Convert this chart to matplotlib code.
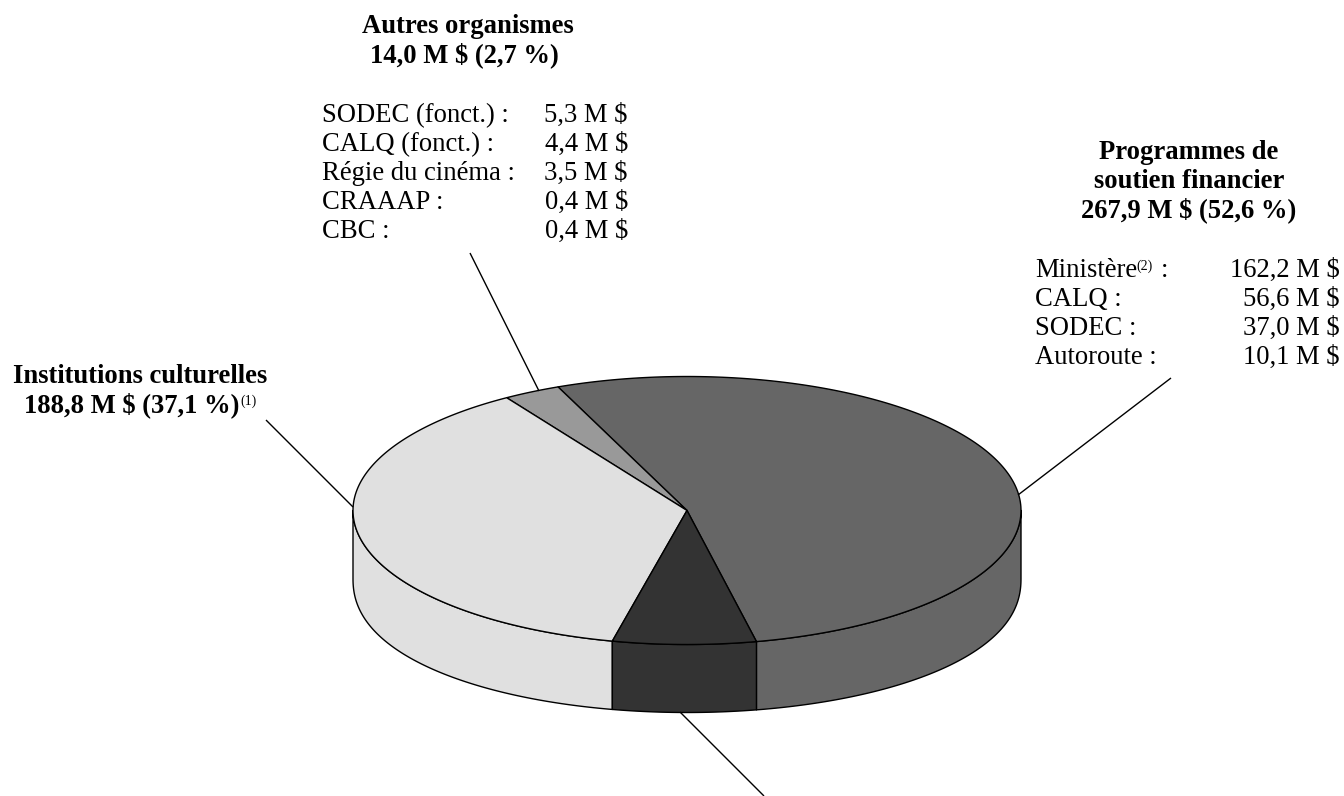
import numpy as np
import matplotlib
matplotlib.use('Agg')
import matplotlib.pyplot as plt

plt.rcParams['font.family'] = ['Liberation Serif', 'DejaVu Serif']

# valeurs en M $, dans le sens antihoraire depuis la tranche du bas a droite
categories = ['Programmes de soutien financier', 'Autres organismes', 'Institutions culturelles', 'Autre']
values = [267.9, 14.0, 188.8, 35.0]
colors = ['#666666', '#999999', '#e0e0e0', '#333333']

prog_labels = ['Ministère', 'CALQ :', 'SODEC :', 'Autoroute :']
prog_values = ['162,2 M $', '56,6 M $', '37,0 M $', '10,1 M $']
autres_labels = ['SODEC (fonct.) :', 'CALQ (fonct.) :', 'Régie du cinéma :', 'CRAAAP :', 'CBC :']
autres_values = ['5,3 M $', '4,4 M $', '3,5 M $', '0,4 M $', '0,4 M $']

# geometrie du disque, en pixels
cx, cy = 687, 510.5
rx, ry = 334, 134
depth = 68
start = -78
FS = 19.2
LH = 29


def rim(t):
    t = np.radians(t)
    return cx + rx*np.cos(t), cy + ry*np.sin(t)


def rim_low(t):
    # le bord du bas est un peu plus carre qu'une ellipse
    t = np.radians(t)
    return cx + rx*np.cos(t), cy + depth + ry*np.clip(np.sin(t), 0, 1)**0.9


fig = plt.figure(figsize=(13.44, 7.96), dpi=100)
ax = fig.add_axes([0, 0, 1, 1])
ax.set_xlim(0, 1344)
ax.set_ylim(796, 0)
ax.axis('off')

angles = start + np.cumsum([0] + values)*360.0/sum(values)
edge = dict(edgecolor='black', linewidth=1.0, joinstyle='round')

# flanc : seulement la moitie visible (y vers le bas, donc angles inverses)
for a0, a1, c in zip(angles[:-1], angles[1:], colors):
    lo, hi = -a1, -a0
    for shift in (0, 360, -360):
        s0 = max(lo + shift, 0)
        s1 = min(hi + shift, 180)
        if s1 > s0:
            t = np.linspace(s0, s1, 120)
            x0, y0 = rim(t)
            x1, y1 = rim_low(t[::-1])
            ax.fill(np.r_[x0, x1], np.r_[y0, y1], facecolor=c, **edge)

# dessus
for a0, a1, c in zip(angles[:-1], angles[1:], colors):
    t = np.linspace(-a1, -a0, 200)
    x, y = rim(t)
    ax.fill(np.r_[cx, x], np.r_[cy, y], facecolor=c, **edge)

# traits de rappel
leaders = [((266, 420), (353, 507)), ((470, 253), (539, 391)),
           ((1171, 378), (1018, 495)), ((680, 712), (764, 796))]
for (xa, ya), (xb, yb) in leaders:
    ax.plot([xa, xb], [ya, yb], color='black', lw=1.0, solid_capstyle='butt', clip_on=False)


def txt(x, y, s, **kw):
    ax.text(x, y, s, fontsize=kw.pop('fs', FS), va='baseline', color='black', **kw)


# Autres organismes
txt(468, 33, 'Autres organismes', ha='center', fontweight='bold')
txt(464, 62, '14,0 M $ (2,7 %)', ha='center', fontweight='bold')
for i, (a, b) in enumerate(zip(autres_labels, autres_values)):
    txt(322, 122 + i*LH, a)
    txt(628, 122 + i*LH, b, ha='right')

# Programmes
txt(1189, 159, 'Programmes de', ha='center', fontweight='bold')
txt(1189, 188, 'soutien financier', ha='center', fontweight='bold')
txt(1189, 217, '267,9 M $ (52,6 %)', ha='center', fontweight='bold')
for i, (a, b) in enumerate(zip(prog_labels, prog_values)):
    txt(1035, 277 + i*LH, a)
    txt(1340, 277 + i*LH, b, ha='right')
txt(1136, 270, '(2)', fs=10)
txt(1161, 277, ':')

# Institutions
txt(140, 383, 'Institutions culturelles', ha='center', fontweight='bold')
txt(132, 412, '188,8 M $ (37,1 %)', ha='center', fontweight='bold')
txt(240, 405, '(1)', fs=10)

fig.savefig('out.png', dpi=100)
plt.close(fig)
